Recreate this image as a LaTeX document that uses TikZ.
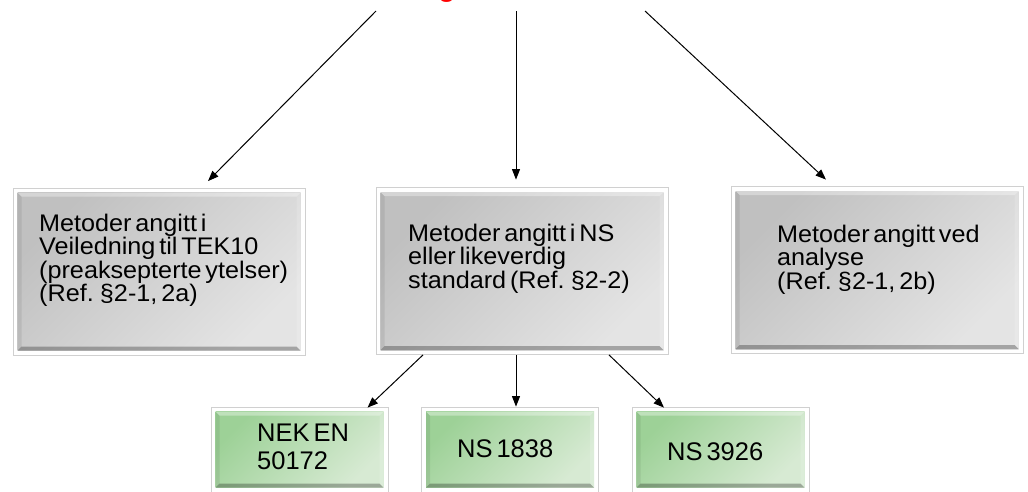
\documentclass[tikz,border=0pt]{standalone}
\usepackage{fontspec}
\setmainfont{Liberation Sans}
\newfontfamily\boxfont[FakeStretch=1.05, WordSpace=0.55]{Liberation Sans}
\newfontfamily\greenfont[WordSpace=0.55]{Liberation Sans}
\usetikzlibrary{arrows.meta,calc}
\definecolor{gTL}{RGB}{192,192,192}
\definecolor{gBR}{RGB}{228,228,228}
\definecolor{nTL}{RGB}{157,209,151}
\definecolor{nBR}{RGB}{215,234,211}
\definecolor{frameline}{RGB}{208,208,208}
\definecolor{titlered}{RGB}{255,0,0}
\tikzset{
  bevelbox/.style 2 args={rectangle, draw=frameline, line width=0.8pt, fill=white, inner sep=0pt,
    path picture={
      \coordinate (bNW) at ([shift={(4.5pt,-4.5pt)}]path picture bounding box.north west);
      \coordinate (bNE) at ([shift={(-4.5pt,-4.5pt)}]path picture bounding box.north east);
      \coordinate (bSW) at ([shift={(4.5pt,4.5pt)}]path picture bounding box.south west);
      \coordinate (bSE) at ([shift={(-4.5pt,4.5pt)}]path picture bounding box.south east);
      \coordinate (iNW) at ([shift={(4pt,-4pt)}]bNW);
      \coordinate (iNE) at ([shift={(-4pt,-4pt)}]bNE);
      \coordinate (iSW) at ([shift={(4pt,4pt)}]bSW);
      \coordinate (iSE) at ([shift={(-4pt,4pt)}]bSE);
      \shade[top color=#1, bottom color=#2, shading angle=45] (bNW) rectangle (bSE);
      \fill[white, opacity=0.35] (bNW) -- (bNE) -- (iNE) -- (iNW) -- cycle;
      \fill[black, opacity=0.07] (bNW) -- (iNW) -- (iSW) -- (bSW) -- cycle;
      \fill[white, opacity=0.15] (bNE) -- (bSE) -- (iSE) -- (iNE) -- cycle;
      \fill[black, opacity=0.28] (bSW) -- (iSW) -- (iSE) -- (bSE) -- cycle;
    }},
  graybox/.style={bevelbox={gTL}{gBR}, minimum width=292pt, minimum height=167pt},
  greenbox/.style={bevelbox={nTL}{nBR}, minimum width=177pt, minimum height=85pt},
  graytext/.style={inner sep=0pt, align=left, anchor=north west,
    font=\boxfont\fontsize{24}{21}\selectfont},
  greentext/.style={inner sep=0pt, align=left, anchor=base west,
    font=\greenfont\fontsize{25.5}{28}\selectfont},
  arr/.style={draw=black, line width=1pt, -{Triangle[length=10.5pt,width=8pt]}},
}
\begin{document}
\begin{tikzpicture}[x=1pt, y=1pt]
\useasboundingbox (0,0) rectangle (1028,-491);
% cropped red title (only the lowest part of its letters is visible)
\node[text=titlered, inner sep=0pt, anchor=south, font=\bfseries\fontsize{28}{30}\selectfont] (title) at (447,-3) {g};
% upper boxes
\node[graybox] (g1) at (159,-271.5) {};
\node[graybox] (g2) at (522,-271) {};
\node[graybox] (g3) at (877,-270) {};
\node[graytext] (t1) at (39,-213.8) {Metoder angitt i\\Veiledning til TEK10\\(preaksepterte ytelser)\\(Ref. §2-1, 2a)};
\node[graytext] (t2) at (408,-223.8) {Metoder angitt i NS\\eller likeverdig\\standard (Ref. §2-2)};
\node[graytext] (t3) at (777,-224.8) {Metoder angitt ved\\analyse\\(Ref. §2-1, 2b)};
% lower boxes
\node[greenbox] (n1) at (299.5,-449.5) {};
\node[greenbox] (n2) at (510,-449.5) {};
\node[greenbox] (n3) at (720.5,-449.5) {};
\node[greentext] (u1) at (257,-469) {NEK EN\\50172};
\node[greentext] (u2) at (457,-457) {NS 1838};
\node[greentext] (u3) at (667,-460) {NS 3926};
% free starts of the top arrows
\coordinate (s1) at (376,-11);
\coordinate (s2) at (516,-11);
\coordinate (s3) at (645,-11);
\draw[arr] (s1) -- ([shift={(49pt,6.5pt)}]g1.north);
\draw[arr] (s2) -- ([shift={(-6pt,7.5pt)}]g2.north);
\draw[arr] (s3) -- ([shift={(-51pt,6.5pt)}]g3.north);
\draw[arr] ([xshift=-99pt]g2.south) -- ([shift={(68pt,-1pt)}]n1.north);
\draw[arr] ([xshift=-6pt]g2.south) -- ([xshift=6pt]n2.north);
\draw[arr] ([xshift=87pt]g2.south) -- ([shift={(-56.5pt,-1pt)}]n3.north);
\end{tikzpicture}
\end{document}
